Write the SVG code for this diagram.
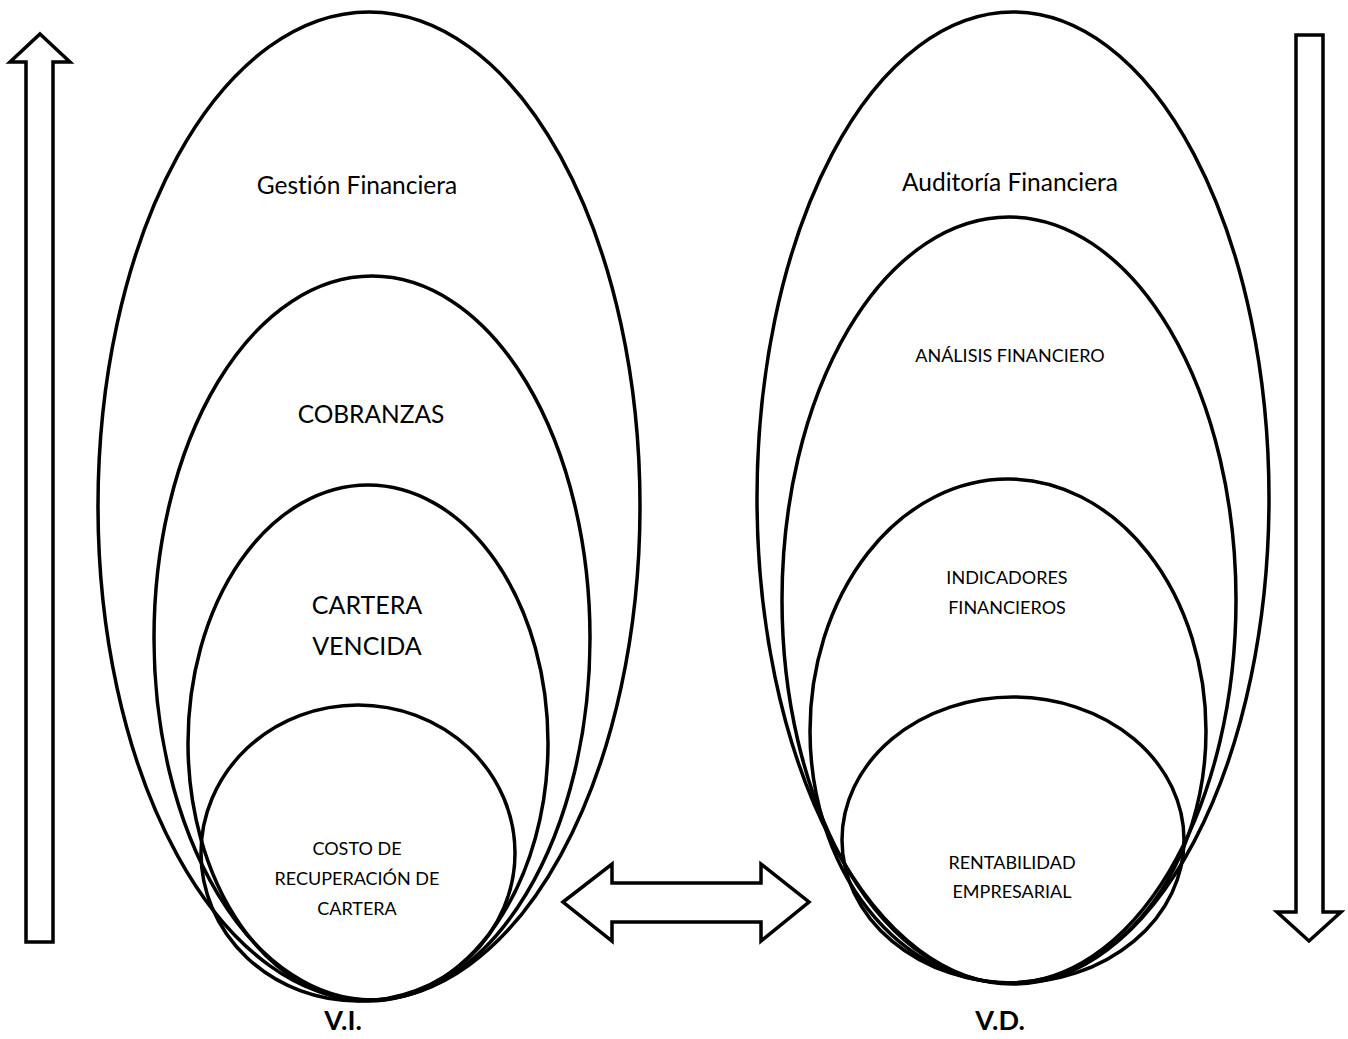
<svg xmlns="http://www.w3.org/2000/svg" width="1348" height="1039" viewBox="0 0 1348 1039">
  <style>
    .ring { fill: none; stroke: #000; stroke-width: 3.5; }
    .arrow { fill: #fff; stroke: #000; stroke-width: 3.5; stroke-linejoin: miter; }
    .lbl { font-family: Lato, "Liberation Sans", sans-serif; font-variant-ligatures: none; fill: #000; text-anchor: middle; }
    .var { font-family: Lato, "Liberation Sans", sans-serif; font-weight: bold; font-size: 27px; fill: #000; text-anchor: middle; }
  </style>
  <rect width="1348" height="1039" fill="#fff"/>

  <!-- independent variable: nested ellipses -->
  <g id="gestion-financiera">
    <ellipse class="ring" cx="369" cy="506" rx="271" ry="494"/>
    <text class="lbl" x="357" y="194" font-size="24.5">Gestión Financiera</text>
  </g>
  <g id="cobranzas">
    <ellipse class="ring" cx="372" cy="638" rx="218" ry="362"/>
    <text class="lbl" x="371" y="423" font-size="24.5">COBRANZAS</text>
  </g>
  <g id="cartera-vencida">
    <ellipse class="ring" cx="368" cy="743" rx="180" ry="258"/>
    <text class="lbl" x="367" y="614" font-size="25">CARTERA</text>
    <text class="lbl" x="367" y="655" font-size="25">VENCIDA</text>
  </g>
  <g id="costo-recuperacion">
    <ellipse class="ring" cx="358" cy="853" rx="157" ry="148"/>
    <text class="lbl" x="357" y="855" font-size="18">COSTO DE</text>
    <text class="lbl" x="357" y="885" font-size="18">RECUPERACIÓN DE</text>
    <text class="lbl" x="357" y="915" font-size="18">CARTERA</text>
  </g>
  <text class="var" x="343" y="1030">V.I.</text>

  <!-- dependent variable: nested ellipses -->
  <g id="auditoria-financiera">
    <ellipse class="ring" cx="1013" cy="498" rx="256" ry="486"/>
    <text class="lbl" x="1010" y="191" font-size="24.5">Auditoría Financiera</text>
  </g>
  <g id="analisis-financiero">
    <ellipse class="ring" cx="1009" cy="600" rx="227" ry="383"/>
    <text class="lbl" x="1010" y="362" font-size="18">ANÁLISIS FINANCIERO</text>
  </g>
  <g id="indicadores-financieros">
    <ellipse class="ring" cx="1008" cy="731" rx="198" ry="252"/>
    <text class="lbl" x="1007" y="584" font-size="18">INDICADORES</text>
    <text class="lbl" x="1007" y="614" font-size="18">FINANCIEROS</text>
  </g>
  <g id="rentabilidad-empresarial">
    <ellipse class="ring" cx="1013" cy="840" rx="171" ry="143"/>
    <text class="lbl" x="1012" y="869" font-size="18">RENTABILIDAD</text>
    <text class="lbl" x="1012" y="898" font-size="18">EMPRESARIAL</text>
  </g>
  <text class="var" x="1000" y="1030">V.D.</text>

  <!-- block arrows -->
  <g id="connectors">
    <polygon class="arrow" points="40,34 70,62 53,62 53,942 26,942 26,62 10,62"/>
    <polygon class="arrow" points="1296,35 1323,35 1323,912 1341,912 1309,941 1277,912 1296,912"/>
    <polygon class="arrow" points="563,902 612,864 612,883 761,883 761,864 809,902 761,941 761,922 612,922 612,941"/>
  </g>
</svg>
